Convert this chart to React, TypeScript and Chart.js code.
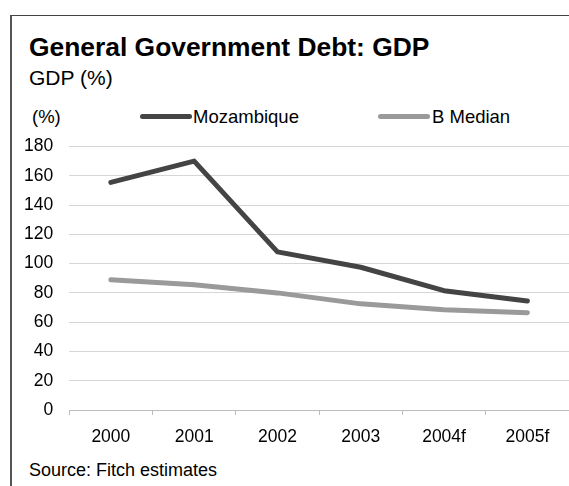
import React, { useEffect, useRef } from "react";
import { Chart, registerables } from "chart.js";

Chart.register(...registerables);

const categories = ["2000", "2001", "2002", "2003", "2004f", "2005f"];
const mozambique = [155.5, 170, 108, 97.5, 81.5, 74.5];
const bMedian = [89, 85.5, 80, 72.5, 68.5, 66.5];
const seriesNames = ["Mozambique", "B Median"];
const seriesColors = ["#444444", "#9a9a9a"];
const yTicks = { min: 0, max: 180, step: 20 };

const FONT = "'Liberation Sans', Arial, Helvetica, sans-serif";

export default function App() {
  const canvasRef = useRef<HTMLCanvasElement | null>(null);

  useEffect(() => {
    const canvas = canvasRef.current;
    if (!canvas) return;
    const chart = new Chart(canvas, {
      type: "line",
      data: {
        labels: categories,
        datasets: [
          {
            label: seriesNames[0],
            data: mozambique,
            borderColor: seriesColors[0],
            backgroundColor: seriesColors[0],
            borderWidth: 5,
            pointRadius: 0,
            tension: 0,
            borderCapStyle: "round",
            borderJoinStyle: "round",
          },
          {
            label: seriesNames[1],
            data: bMedian,
            borderColor: seriesColors[1],
            backgroundColor: seriesColors[1],
            borderWidth: 5,
            pointRadius: 0,
            tension: 0,
            borderCapStyle: "round",
            borderJoinStyle: "round",
          },
        ],
      },
      options: {
        animation: false,
        responsive: false,
        maintainAspectRatio: false,
        layout: { padding: { left: 0, right: 0, top: 0, bottom: 0 } },
        plugins: {
          legend: { display: false },
          tooltip: { enabled: false },
          title: { display: false },
        },
        scales: {
          x: {
            offset: true,
            grid: {
              display: true,
              drawOnChartArea: false,
              drawTicks: true,
              tickLength: 5,
              color: "#bdbdbd",
              offset: true,
            },
            border: { display: true, color: "#bdbdbd", width: 1 },
            ticks: {
              color: "#000",
              padding: 12,
              font: { family: FONT, size: 17.5 },
              maxRotation: 0,
              autoSkip: false,
            },
          },
          y: {
            min: yTicks.min,
            max: yTicks.max,
            grid: {
              color: "#d6d6d6",
              lineWidth: 1,
              drawTicks: false,
            },
            border: { display: false },
            ticks: {
              stepSize: yTicks.step,
              color: "#000",
              padding: 16,
              font: { family: FONT, size: 17.5 },
            },
          },
        },
      },
    });
    return () => chart.destroy();
  }, []);

  const textBase: React.CSSProperties = {
    position: "absolute",
    fontFamily: FONT,
    color: "#000",
    whiteSpace: "nowrap",
    margin: 0,
  };

  return (
    <div
      style={{
        position: "absolute",
        left: 0,
        top: 0,
        width: 569,
        height: 486,
        background: "#fff",
        overflow: "hidden",
      }}
    >
      <div
        style={{
          position: "absolute",
          left: 10,
          top: 15,
          width: 569,
          height: 480,
          borderLeft: "2px solid #555",
          borderTop: "1px solid #444",
        }}
      />
      <div
        style={{
          ...textBase,
          left: 29,
          top: 33.6,
          fontSize: 26.4,
          lineHeight: "26.4px",
          fontWeight: "bold",
        }}
      >
        General Government Debt: GDP
      </div>
      <div
        style={{
          ...textBase,
          left: 29,
          top: 67.2,
          fontSize: 21,
          lineHeight: "21px",
        }}
      >
        GDP (%)
      </div>
      <div
        style={{
          ...textBase,
          left: 32,
          top: 108.3,
          fontSize: 18.5,
          lineHeight: "18.5px",
        }}
      >
        (%)
      </div>
      <div
        style={{
          position: "absolute",
          left: 140,
          top: 113.5,
          width: 52,
          height: 5,
          borderRadius: 2.5,
          background: seriesColors[0],
        }}
      />
      <div
        style={{
          ...textBase,
          left: 193,
          top: 108.3,
          fontSize: 18.5,
          lineHeight: "18.5px",
        }}
      >
        {seriesNames[0]}
      </div>
      <div
        style={{
          position: "absolute",
          left: 378,
          top: 113.5,
          width: 52,
          height: 5,
          borderRadius: 2.5,
          background: seriesColors[1],
        }}
      />
      <div
        style={{
          ...textBase,
          left: 432,
          top: 108.3,
          fontSize: 18.5,
          lineHeight: "18.5px",
        }}
      >
        {seriesNames[1]}
      </div>
      <canvas
        ref={canvasRef}
        width={561}
        height={340}
        style={{
          position: "absolute",
          left: 8,
          top: 120,
          width: 561,
          height: 340,
        }}
      />
      <div
        style={{
          ...textBase,
          left: 29,
          top: 460.8,
          fontSize: 18,
          lineHeight: "18px",
        }}
      >
        Source: Fitch estimates
      </div>
    </div>
  );
}
